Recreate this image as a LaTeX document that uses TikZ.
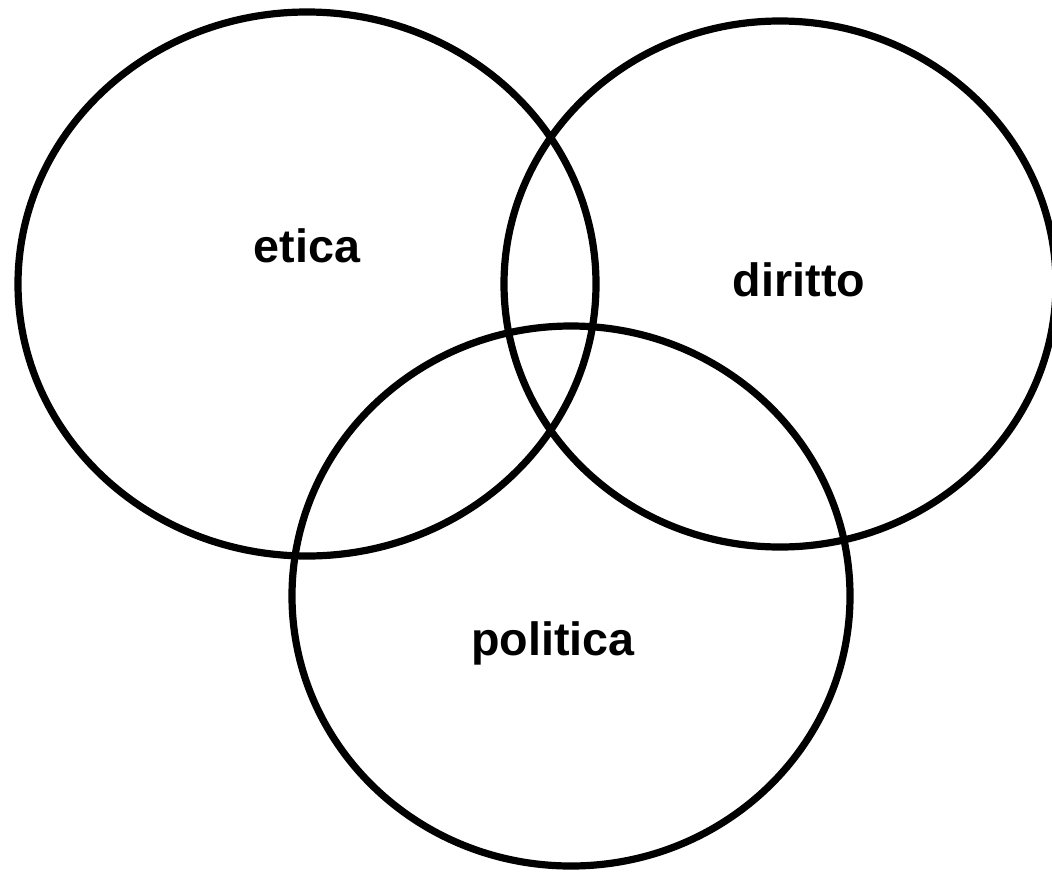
\documentclass[tikz,border=0pt]{standalone}
\usepackage{fontspec}
\setmainfont{Liberation Sans}
\begin{document}
\begin{tikzpicture}[x=0.75pt,y=-0.75pt,
  setring/.style={draw=black,line width=5.4pt},
  setlabel/.style={font=\fontsize{35}{42}\selectfont\bfseries}]
\useasboundingbox (0,0) rectangle (1052,875);
\begin{scope}
\clip (0,0) rectangle (1052,875);
\draw[setring] (307,284) ellipse [x radius=289, y radius=272];
\draw[setring] (780,284) ellipse [x radius=276, y radius=263];
\draw[setring] (571,596) ellipse [x radius=279, y radius=270];
\end{scope}
\node[setlabel] (etica) at (307,246) {etica};
\node[setlabel] (diritto) at (799,280) {diritto};
\node[setlabel] (politica) at (553,643) {politica};
\end{tikzpicture}
\end{document}
